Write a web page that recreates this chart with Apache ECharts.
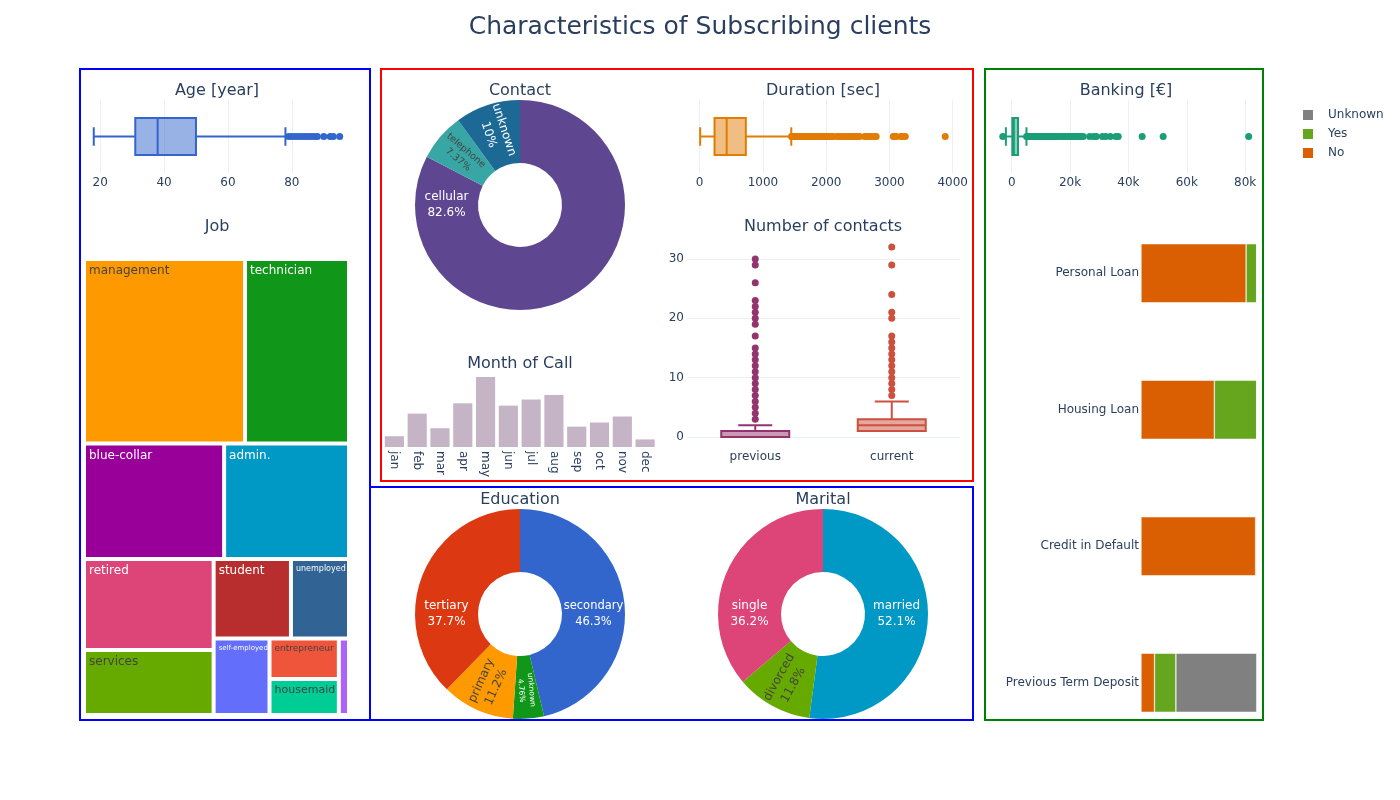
<!DOCTYPE html>
<html>
<head>
<meta charset="utf-8">
<title>Characteristics of Subscribing clients</title>
<script src="https://cdn.jsdelivr.net/npm/echarts@6/dist/echarts.min.js"></script>
<style>
html, body { margin: 0; padding: 0; background: #fff; }
#container { width: 1400px; height: 800px; }
</style>
</head>
<body>
<div id="container"></div>
<script>
// ---- data ----
var ageBox = [18, 31, 38, 50, 78];
var ageOutliers = [79, 80, 81, 82, 83, 84, 85, 86, 87, 88, 90, 92, 93, 95];

var durationBox = [8, 235, 427, 730, 1448];
var durationOutliers = [1452, 1460, 1471, 1480, 1490, 1503, 1515, 1530, 1545, 1560, 1578, 1590,
  1610, 1625, 1640, 1660, 1680, 1700, 1720, 1740, 1765, 1790, 1810, 1835, 1860, 1880, 1906,
  1930, 1960, 1980, 2005, 2030, 2055, 2087, 2110, 2170, 2200, 2240, 2280, 2320, 2355, 2390,
  2430, 2460, 2500, 2530, 2610, 2640, 2680, 2720, 2770, 2790, 3060, 3080, 3110, 3180, 3210,
  3250, 3881];

var balanceBox = [-2000, 210, 733, 2159, 5050];
var balanceOutliers = [-3058, 5100, 5300, 5550, 5800, 6050, 6300, 6600, 6900, 7200, 7500, 7850,
  8200, 8550, 8900, 9300, 9700, 10100, 10500, 10900, 11300, 11800, 12300, 12800, 13300, 13800,
  14300, 14900, 15400, 16300, 17200, 17700, 18300, 19000, 19600, 20300, 21000, 21700, 22400,
  23100, 23800, 24500, 26700, 28100, 29000, 31100, 32200, 33800, 35700, 36500, 44700, 51900,
  81204];

var contactNames = ['cellular', 'telephone', 'unknown'];
var contactCounts = [4369, 390, 530];

var months = ['jan', 'feb', 'mar', 'apr', 'may', 'jun', 'jul', 'aug', 'sep', 'oct', 'nov', 'dec'];
var monthCounts = [142, 441, 248, 577, 925, 546, 627, 688, 269, 323, 403, 100];

var contactKinds = ['previous', 'current'];
var previousBox = [0, 0, 0, 1, 2];
var currentBox = [1, 1, 2, 3, 6];
var previousOutliers = [3, 4, 5, 6, 7, 8, 9, 10, 11, 12, 13, 14, 15, 17, 19, 20, 21, 22, 23, 26, 29, 30];
var currentOutliers = [7, 8, 9, 10, 11, 12, 13, 14, 15, 16, 17, 20, 21, 24, 29, 32];

var jobNames = ['management', 'technician', 'blue-collar', 'admin.', 'retired', 'services',
  'student', 'unemployed', 'self-employed', 'entrepreneur', 'housemaid', 'unknown'];
var jobCounts = [1301, 840, 708, 631, 516, 369, 269, 202, 187, 123, 109, 34];

var educationNames = ['secondary', 'unknown', 'primary', 'tertiary'];
var educationCounts = [2450, 252, 591, 1996];

var maritalNames = ['married', 'divorced', 'single'];
var maritalCounts = [2755, 622, 1912];

var bankCategories = ['Previous Term Deposit', 'Credit in Default', 'Housing Loan', 'Personal Loan'];
var bankNo = [618, 5237, 3354, 4805];
var bankYes = [978, 52, 1935, 484];
var bankUnknown = [3693, 0, 0, 0];

var ageTicks = [20, 40, 60, 80];
var durationTicks = [0, 1000, 2000, 3000, 4000];
var balanceTicks = [0, 20000, 40000, 60000, 80000];
var contactTicks = [0, 10, 20, 30];

// ---- styles ----
var font = '"DejaVu Sans", Verdana, sans-serif';
var ink = '#2a3f5f';
var gridColor = '#ebf0f8';

var jobColors = ['#ff9900', '#109618', '#990099', '#0099c6', '#dd4477', '#66aa00',
  '#b82e2e', '#316395', '#636efa', '#ef553b', '#00cc96', '#ab63fa'];
var jobTextColors = ['#444', '#fff', '#fff', '#fff', '#fff', '#444', '#fff', '#fff', '#fff', '#444', '#444', '#444'];
var jobTextSizes = [12, 12, 12, 12, 12, 12, 12, 8, 7, 9, 11, 0];

var contactColors = ['#5f4690', '#38a6a5', '#1d6996'];
var contactLabels = [
  { color: '#fff', rotate: 0, fontSize: 12, lineHeight: 16 },
  { color: '#444', rotate: 'radial', fontSize: 9.5, lineHeight: 12 },
  { color: '#fff', rotate: 'radial', fontSize: 12, lineHeight: 16 }
];
var contactSides = [-1, 0, 0];

var educationColors = ['#3366cc', '#109618', '#ff9900', '#dc3912'];
var educationLabels = [
  { color: '#fff', rotate: 0, fontSize: 11.5, lineHeight: 16 },
  { color: '#fff', rotate: 'radial', fontSize: 7.5, lineHeight: 10 },
  { color: '#444', rotate: 'radial', fontSize: 12, lineHeight: 16 },
  { color: '#fff', rotate: 0, fontSize: 12, lineHeight: 16 }
];
var educationSides = [1, 0, 0, -1];

var maritalColors = ['#0099c6', '#66aa00', '#dd4477'];
var maritalLabels = [
  { color: '#fff', rotate: 0, fontSize: 12, lineHeight: 16 },
  { color: '#444', rotate: 'radial', fontSize: 12, lineHeight: 16 },
  { color: '#fff', rotate: 0, fontSize: 12, lineHeight: 16 }
];
var maritalSides = [1, 0, -1];

var pieRadius = [42, 105];

function subTitle(text, x, y, size) {
  return {
    text: text, left: x, top: y, padding: 0,
    textAlign: 'center', textVerticalAlign: 'middle',
    textStyle: { fontSize: size || 16, fontWeight: 'normal', color: ink, fontFamily: font }
  };
}

function plainGrid(left, top, width, height) {
  return { left: left, top: top, width: width, height: height, containLabel: false, outerBoundsMode: 'none' };
}

function valueAxis(gridIndex, min, max, ticks, formatter) {
  return {
    type: 'value', gridIndex: gridIndex, min: min, max: max,
    axisLine: { show: false },
    axisTick: { show: false, customValues: ticks },
    axisLabel: { customValues: ticks, color: ink, fontSize: 12, fontFamily: font, margin: 4,
      formatter: formatter || function (v) { return String(v); } },
    splitLine: { show: true, lineStyle: { color: gridColor, width: 1 } }
  };
}

function hiddenCategory(gridIndex, name) {
  return { type: 'category', gridIndex: gridIndex, data: [name], show: false };
}

// plotly-style box: whisker caps half as wide as the box
function boxRenderer(horizontal, boxPx, lines, fills) {
  return function (params, api) {
    var cat = api.value(5);
    var v = [api.value(0), api.value(1), api.value(2), api.value(3), api.value(4)];
    var line = lines[params.dataIndex], fill = fills[params.dataIndex];
    function pt(val, off) {
      var c = horizontal ? api.coord([val, cat]) : api.coord([cat, val]);
      return horizontal ? [c[0], c[1] + off] : [c[0] + off, c[1]];
    }
    function seg(a, b) {
      return { type: 'line', shape: { x1: a[0], y1: a[1], x2: b[0], y2: b[1] },
        style: { stroke: line, lineWidth: 2, fill: 'none' } };
    }
    var h = boxPx / 2, w = boxPx / 4;
    var a = pt(v[1], -h), b = pt(v[3], h);
    return {
      type: 'group',
      children: [
        seg(pt(v[0], 0), pt(v[1], 0)),
        seg(pt(v[3], 0), pt(v[4], 0)),
        seg(pt(v[0], -w), pt(v[0], w)),
        seg(pt(v[4], -w), pt(v[4], w)),
        { type: 'rect',
          shape: { x: Math.min(a[0], b[0]), y: Math.min(a[1], b[1]),
            width: Math.abs(b[0] - a[0]), height: Math.abs(b[1] - a[1]) },
          style: { fill: fill, stroke: line, lineWidth: 2 } },
        seg(pt(v[2], -h), pt(v[2], h))
      ]
    };
  };
}

function boxSeries(axis, rows, horizontal, boxPx, lines, fills) {
  return {
    type: 'custom', xAxisIndex: axis, yAxisIndex: axis, silent: true, z: 2,
    encode: horizontal ? { x: [0, 1, 2, 3, 4], y: 5 } : { x: 5, y: [0, 1, 2, 3, 4] },
    renderItem: boxRenderer(horizontal, boxPx, lines, fills),
    data: rows.map(function (r, i) { return r.concat([i]); })
  };
}

function outlierSeries(axis, values, cat, horizontal, color) {
  return {
    type: 'scatter', xAxisIndex: axis, yAxisIndex: axis, symbolSize: 7,
    itemStyle: { color: color, opacity: 1 }, silent: true, z: 3,
    data: values.map(function (v) { return horizontal ? [v, cat] : [cat, v]; })
  };
}

function pctLabel(p) {
  return p.name + '\n' + Number(p.percent.toPrecision(3)) + '%';
}

function pieSeries(names, counts, colors, labels, center, sides) {
  var rMid = (pieRadius[0] + pieRadius[1]) / 2;
  return {
    type: 'pie', center: center, radius: pieRadius, startAngle: 90, clockwise: true,
    avoidLabelOverlap: false, percentPrecision: 4, silent: true,
    label: { show: true, position: 'inside', formatter: pctLabel, fontFamily: font },
    labelLine: { show: false },
    emphasis: { disabled: true },
    data: names.map(function (n, i) {
      return { name: n, value: counts[i], itemStyle: { color: colors[i] }, label: labels[i] };
    }),
    labelLayout: function (p) {
      var side = sides[p.dataIndex];
      if (!side) return {};
      return { x: center[0] + side * rMid, y: center[1], align: 'center', verticalAlign: 'middle' };
    }
  };
}

var dom = document.getElementById('container');
var myChart = echarts.init(dom, null, { renderer: 'canvas' });

var option = {
  animation: false,
  backgroundColor: '#fff',
  textStyle: { fontFamily: font },
  title: [
    subTitle('Characteristics of Subscribing clients', 700, 27, 25),
    subTitle('Age [year]', 217, 91),
    subTitle('Job', 217, 227),
    subTitle('Contact', 520, 91),
    subTitle('Duration [sec]', 823, 91),
    subTitle('Month of Call', 520, 364),
    subTitle('Number of contacts', 823, 227),
    subTitle('Education', 520, 500),
    subTitle('Marital', 823, 500),
    subTitle('Banking [€]', 1126, 91)
  ],
  legend: {
    data: ['Unknown', 'Yes', 'No'], orient: 'vertical', left: 1301, top: 108, padding: 0,
    itemWidth: 12, itemHeight: 12, itemGap: 5, icon: 'rect', selectedMode: false,
    textStyle: { color: ink, fontSize: 12, fontFamily: font, padding: [0, 0, 0, 9] }
  },
  grid: [
    plainGrid(88, 100, 264.5, 73),
    plainGrid(687, 100, 273, 73),
    plainGrid(998, 100, 260, 73),
    plainGrid(383, 373.5, 273.5, 73.5),
    plainGrid(687, 237, 273, 209.5),
    plainGrid(1141, 205, 115.7, 546)
  ],
  xAxis: [
    valueAxis(0, 16.2, 99, ageTicks),
    valueAxis(1, -200, 4115, durationTicks),
    valueAxis(2, -4700, 84400, balanceTicks, function (v) { return v === 0 ? '0' : (v / 1000) + 'k'; }),
    {
      type: 'category', gridIndex: 3, data: months,
      axisLine: { show: false }, axisTick: { show: false },
      axisLabel: { interval: 0, rotate: -90, color: ink, fontSize: 12, fontFamily: font, margin: 4 }
    },
    {
      type: 'category', gridIndex: 4, data: contactKinds,
      axisLine: { show: false }, axisTick: { show: false },
      axisLabel: { color: ink, fontSize: 12, fontFamily: font, margin: 4 }
    },
    { type: 'value', gridIndex: 5, min: 0, max: 5289, show: false }
  ],
  yAxis: [
    hiddenCategory(0, 'age'),
    hiddenCategory(1, 'duration'),
    hiddenCategory(2, 'balance'),
    { type: 'value', gridIndex: 3, min: 0, max: 971, show: false },
    (function () {
      var a = valueAxis(4, -1.6, 33.7, contactTicks);
      a.axisLabel.margin = 3;
      return a;
    })(),
    {
      type: 'category', gridIndex: 5, data: bankCategories,
      axisLine: { show: false }, axisTick: { show: false },
      axisLabel: { color: ink, fontSize: 12, fontFamily: font, margin: 2 }
    }
  ],
  series: [
    boxSeries(0, [ageBox], true, 37, ['rgb(51,102,204)'], ['rgba(51,102,204,0.5)']),
    outlierSeries(0, ageOutliers, 0, true, 'rgb(51,102,204)'),
    boxSeries(1, [durationBox], true, 37, ['rgb(225,124,5)'], ['rgba(225,124,5,0.5)']),
    outlierSeries(1, durationOutliers, 0, true, 'rgb(225,124,5)'),
    boxSeries(2, [balanceBox], true, 37, ['rgb(27,158,119)'], ['rgba(27,158,119,0.5)']),
    outlierSeries(2, balanceOutliers, 0, true, 'rgb(27,158,119)'),
    {
      type: 'bar', xAxisIndex: 3, yAxisIndex: 3, data: monthCounts, barCategoryGap: '16%',
      itemStyle: { color: 'rgba(111,64,112,0.4)' }, silent: true
    },
    boxSeries(4, [previousBox, currentBox], false, 68,
      ['rgb(148,52,110)', 'rgb(204,80,62)'], ['rgba(148,52,110,0.5)', 'rgba(204,80,62,0.5)']),
    outlierSeries(4, previousOutliers, 0, false, 'rgb(148,52,110)'),
    outlierSeries(4, currentOutliers, 1, false, 'rgb(204,80,62)'),
    {
      name: 'No', type: 'bar', stack: 'bank', xAxisIndex: 5, yAxisIndex: 5, data: bankNo, barWidth: 59,
      itemStyle: { color: '#d95f02', borderColor: '#fff', borderWidth: 0.5 }, silent: true
    },
    {
      name: 'Yes', type: 'bar', stack: 'bank', xAxisIndex: 5, yAxisIndex: 5, data: bankYes, barWidth: 59,
      itemStyle: { color: '#66a61e', borderColor: '#fff', borderWidth: 0.5 }, silent: true
    },
    {
      name: 'Unknown', type: 'bar', stack: 'bank', xAxisIndex: 5, yAxisIndex: 5, data: bankUnknown, barWidth: 59,
      itemStyle: { color: '#808080', borderColor: '#fff', borderWidth: 0.5 }, silent: true
    },
    pieSeries(contactNames, contactCounts, contactColors, contactLabels, [520, 205], contactSides),
    pieSeries(educationNames, educationCounts, educationColors, educationLabels, [520, 614], educationSides),
    pieSeries(maritalNames, maritalCounts, maritalColors, maritalLabels, [823, 614], maritalSides),
    {
      type: 'treemap', left: 86, top: 261, width: 261, height: 452,
      squareRatio: 1, roam: false, nodeClick: false, silent: true,
      breadcrumb: { show: false },
      levels: [{ itemStyle: { gapWidth: 4, borderWidth: 0 } }, { itemStyle: { borderWidth: 0 } }],
      label: { show: true, position: 'insideTopLeft', padding: [4, 3], overflow: 'none', fontFamily: font },
      upperLabel: { show: false },
      data: jobNames.map(function (n, i) {
        return {
          name: n, value: jobCounts[i],
          itemStyle: { color: jobColors[i] },
          label: { show: jobTextSizes[i] > 0, color: jobTextColors[i], fontSize: jobTextSizes[i] || 1, overflow: 'none' }
        };
      })
    }
  ],
  graphic: [
    { type: 'rect', silent: true, shape: { x: 80, y: 69, width: 290, height: 651 }, style: { fill: 'none', stroke: '#0000ff', lineWidth: 2 } },
    { type: 'rect', silent: true, shape: { x: 381, y: 69, width: 592, height: 412 }, style: { fill: 'none', stroke: '#ff0000', lineWidth: 2 } },
    { type: 'rect', silent: true, shape: { x: 370, y: 487, width: 603, height: 233 }, style: { fill: 'none', stroke: '#0000ff', lineWidth: 2 } },
    { type: 'rect', silent: true, shape: { x: 985, y: 69, width: 278, height: 651 }, style: { fill: 'none', stroke: '#008000', lineWidth: 2 } }
  ]
};

if (option && typeof option === 'object') {
  myChart.setOption(option, true);
}
</script>
</body>
</html>
